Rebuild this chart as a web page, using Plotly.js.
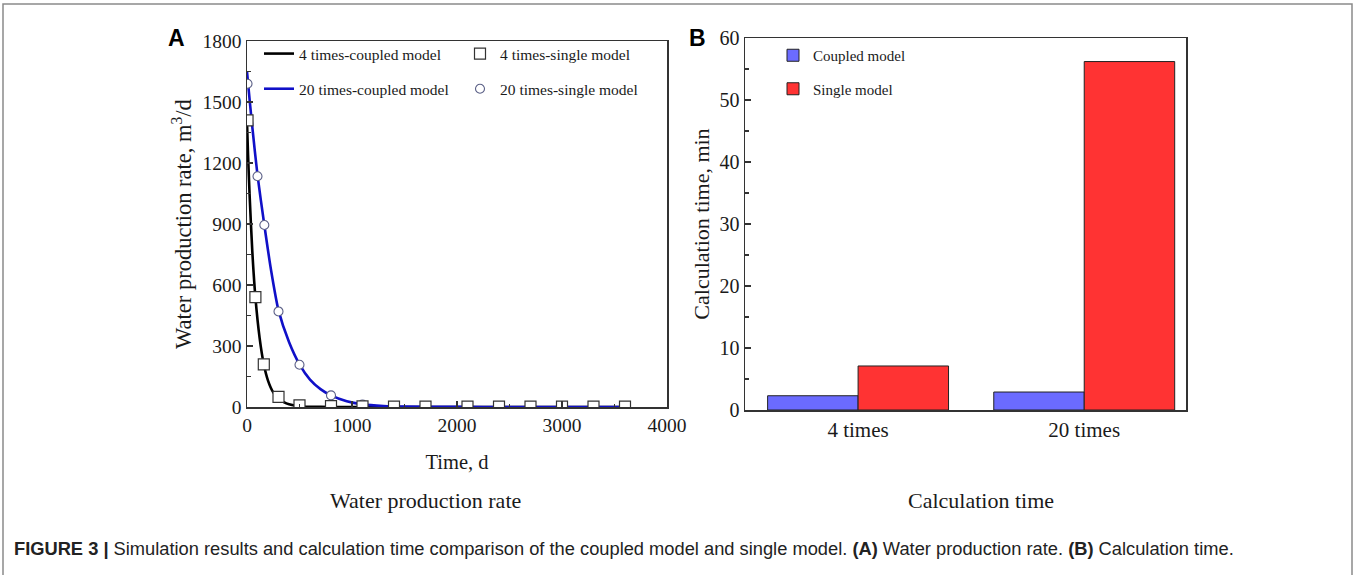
<!DOCTYPE html>
<html>
<head>
<meta charset="utf-8">
<script src="https://cdn.plot.ly/plotly-3.0.1.min.js"></script>
<style>html,body{margin:0;padding:0;background:#fff;} #chart{width:1357px;height:575px;}</style>
</head>
<body>
<div id="chart"></div>
<script>
// ---- Panel A data ----
const coupled4Time = [0, 10, 25, 50, 80, 120, 160, 200, 250, 300, 350, 400, 500, 600, 800, 1000, 1500, 2000, 2500, 3000, 3650];
const coupled4Rate = [1400, 1240, 1040, 770, 540, 340, 210, 130, 72, 42, 24, 13, 4, 1.5, 0.3, 0.1, 0, 0, 0, 0, 0];
const coupled20Time = [0, 25, 50, 100, 165, 230, 300, 400, 500, 600, 700, 800, 950, 1100, 1300, 1500, 2000, 2500, 3000, 3650];
const coupled20Rate = [1650, 1510, 1380, 1140, 895, 670, 475, 320, 210, 135, 88, 57, 28, 13, 5, 2, 0.4, 0.1, 0, 0];
const single4Time = [5, 80, 160, 300, 500, 800, 1100, 1400, 1700, 2100, 2400, 2700, 3000, 3300, 3600];
const single4Rate = [1410, 540, 210, 50, 8, 4, 3, 2, 2, 2, 2, 2, 2, 2, 2];
const single20Time = [5, 100, 165, 300, 500, 800, 1100, 1400, 1700, 2100, 2400, 2700, 3000, 3300, 3600];
const single20Rate = [1590, 1135, 895, 470, 208, 57, 12, 3, 1, 0.5, 0.3, 0.2, 0.1, 0.1, 0.1];

// ---- Panel B data ----
const cases = ["4 times", "20 times"];
const coupledMinutes = [2.3, 2.9];
const singleMinutes = [7.1, 56.2];

const W = 1357, H = 575;
const px = v => v / W;
const py = v => 1 - v / H;
const serif = "Liberation Serif, Times New Roman, serif";
const ink = "#1a1a1a";

const traces = [
  {x: coupled4Time, y: coupled4Rate, type: "scatter", mode: "lines", name: "4 times-coupled model",
   line: {color: "#000000", width: 2.6, shape: "spline", smoothing: 0.6}, xaxis: "x", yaxis: "y",
   legend: "legend", legendgroup: "a1"},
  {x: coupled20Time, y: coupled20Rate, type: "scatter", mode: "lines", name: "20 times-coupled model",
   line: {color: "#1010C8", width: 2.6, shape: "spline", smoothing: 0.6}, xaxis: "x", yaxis: "y",
   legend: "legend", legendgroup: "a2"},
  {x: single20Time, y: single20Rate, type: "scatter", mode: "markers", name: "20 times-single model",
   marker: {symbol: "circle", size: 9, color: "#ffffff", line: {color: "#5a5f86", width: 1.1}},
   xaxis: "x", yaxis: "y", legend: "legend2", legendgroup: "b2", legendrank: 2},
  {x: single4Time, y: single4Rate, type: "scatter", mode: "markers", name: "4 times-single model",
   marker: {symbol: "square", size: 11, color: "#ffffff", line: {color: "#333333", width: 1.2}},
   xaxis: "x", yaxis: "y", legend: "legend2", legendgroup: "b1", legendrank: 1},
  {x: cases, y: coupledMinutes, type: "bar", name: "Coupled model",
   marker: {color: "#6B6BFF", line: {color: "#222222", width: 1}}, xaxis: "x2", yaxis: "y2",
   legend: "legend3", legendgroup: "c1"},
  {x: cases, y: singleMinutes, type: "bar", name: "Single model",
   marker: {color: "#FF3333", line: {color: "#222222", width: 1}}, xaxis: "x2", yaxis: "y2",
   legend: "legend3", legendgroup: "c2"}
];

const axisBase = {
  showline: true, mirror: true, linecolor: "#333333", linewidth: 1.5,
  showgrid: false, zeroline: false, ticks: "inside", ticklen: 6, tickwidth: 1.3, tickcolor: "#333333",
  tickfont: {family: serif, size: 19.5, color: ink}, automargin: false
};

const legendBase = {
  font: {family: serif, size: 15.5, color: ink}, bgcolor: "rgba(0,0,0,0)",
  traceorder: "grouped", tracegroupgap: 12, xanchor: "left", yanchor: "top", orientation: "v"
};

const layout = {
  width: W, height: H,
  margin: {l: 0, r: 0, t: 0, b: 0},
  paper_bgcolor: "#ffffff", plot_bgcolor: "#ffffff",
  showlegend: true,
  barmode: "group", bargap: 0.2, bargroupgap: 0,
  xaxis: Object.assign({}, axisBase, {
    domain: [px(247), px(667)], anchor: "y", range: [0, 4000], dtick: 1000,
    minor: {ticks: "inside", ticklen: 3.5, dtick: 500, tickcolor: "#333333"},
    title: {text: "Time, d", font: {family: serif, size: 20.5, color: ink}, standoff: 19}
  }),
  yaxis: Object.assign({}, axisBase, {
    domain: [py(407), py(41)], anchor: "x", range: [0, 1800], dtick: 300,
    minor: {ticks: "inside", ticklen: 3.5, dtick: 150, tickcolor: "#333333"},
    title: {text: "Water production rate, m<sup>3</sup>/d", font: {family: serif, size: 22.5, color: ink}, standoff: 4}
  }),
  xaxis2: Object.assign({}, axisBase, {
    domain: [px(745), px(1186)], anchor: "y2", type: "category", range: [-0.5, 1.45],
    ticks: "", ticklen: 0, tickfont: {family: serif, size: 21, color: ink}
  }),
  yaxis2: Object.assign({}, axisBase, {
    domain: [py(410), py(38)], anchor: "x2", range: [0, 60], dtick: 10,
    tickfont: {family: serif, size: 20, color: ink},
    minor: {ticks: "inside", ticklen: 3.5, dtick: 5, tickcolor: "#333333"},
    title: {text: "Calculation time, min", font: {family: serif, size: 22, color: ink}, standoff: 4}
  }),
  legend: Object.assign({}, legendBase, {x: px(259), y: py(37)}),
  legend2: Object.assign({}, legendBase, {x: px(460), y: py(37)}),
  legend3: Object.assign({}, legendBase, {x: px(773), y: py(39), tracegroupgap: 11, font: {family: serif, size: 15, color: ink}}),
  shapes: [
    {type: "rect", xref: "paper", yref: "paper", x0: px(3), x1: px(1352), y0: py(590), y1: py(4),
     line: {color: "#8a8a8a", width: 1.5}, fillcolor: "rgba(0,0,0,0)", layer: "below"}
  ],
  annotations: [
    {text: "<b>A</b>", x: px(176), y: py(38), xref: "paper", yref: "paper", showarrow: false,
     xanchor: "center", yanchor: "middle", font: {family: "Liberation Sans, Arial, sans-serif", size: 23, color: "#000"}},
    {text: "<b>B</b>", x: px(697), y: py(38), xref: "paper", yref: "paper", showarrow: false,
     xanchor: "center", yanchor: "middle", font: {family: "Liberation Sans, Arial, sans-serif", size: 23, color: "#000"}},
    {text: "Water production rate", x: px(425), y: py(500), xref: "paper", yref: "paper", showarrow: false,
     xanchor: "center", yanchor: "middle", font: {family: serif, size: 22, color: ink}},
    {text: "Calculation time", x: px(981), y: py(500), xref: "paper", yref: "paper", showarrow: false,
     xanchor: "center", yanchor: "middle", font: {family: serif, size: 22, color: ink}},
    {text: "<b>FIGURE 3 |</b> Simulation results and calculation time comparison of the coupled model and single model. <b>(A)</b> Water production rate. <b>(B)</b> Calculation time.",
     x: px(12), y: py(548), xref: "paper", yref: "paper", showarrow: false,
     xanchor: "left", yanchor: "middle", font: {family: "Liberation Sans, Arial, sans-serif", size: 18.3, color: "#222"}}
  ]
};

Plotly.newPlot("chart", traces, layout, {displayModeBar: false, staticPlot: true});
</script>
</body>
</html>
